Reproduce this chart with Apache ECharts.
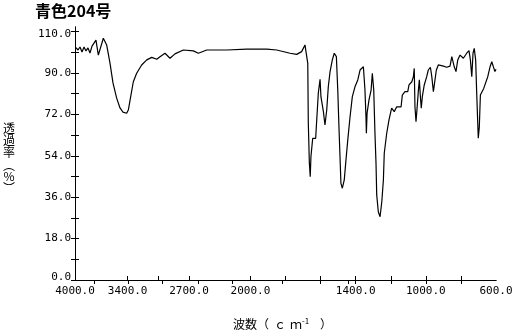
<!DOCTYPE html>
<html>
<head>
<meta charset="utf-8">
<script src="https://cdn.jsdelivr.net/npm/echarts@6/dist/echarts.min.js"></script>
<style>
  html, body { margin: 0; background: #fff; }
  #chart { width: 514px; height: 333px; }
</style>
</head>
<body>
<div id="chart"></div>
<script>
// 波数 (cm-1) と 透過率 (%)
var wavenumber = [3989, 3966, 3943, 3920, 3897, 3875, 3852, 3829, 3806, 3761,
  3734, 3677, 3639, 3601, 3567, 3525, 3487, 3453, 3411, 3392,
  3365, 3335, 3297, 3240, 3182, 3125, 3068, 3031, 2974, 2917,
  2860, 2765, 2651, 2594, 2498, 2270, 2042, 1907, 1850, 1774,
  1736, 1708, 1689, 1679, 1673, 1670, 1664, 1659, 1655, 1645,
  1628, 1622, 1613, 1603, 1598, 1584, 1575, 1565, 1556, 1546,
  1533, 1522, 1510, 1502, 1495, 1489, 1484, 1476, 1465, 1457,
  1445, 1432, 1419, 1404, 1388, 1375, 1356, 1351, 1347, 1341,
  1339, 1335, 1324, 1312, 1305, 1297, 1290, 1284, 1280, 1271,
  1261, 1251, 1242, 1237, 1223, 1210, 1195, 1180, 1166, 1141,
  1134, 1119, 1103, 1096, 1080, 1071, 1066, 1062, 1056, 1050,
  1043, 1037, 1031, 1026, 1020, 1009, 995, 986, 974, 966,
  957, 948, 940, 929, 900, 881, 862, 852, 845, 838,
  828, 818, 805, 795, 786, 767, 754, 746, 738, 731,
  724, 716, 710, 704, 701, 695, 689, 678, 670, 659,
  647, 634, 624, 615, 606, 600];
var transmittance = [101.0, 100.0, 101.3, 99.1, 101.3, 99.6, 100.9, 98.7, 101.7, 104.3,
  97.8, 105.1, 102.2, 94.3, 85.7, 79.1, 74.8, 73.0, 72.5, 73.9,
  79.7, 86.2, 89.9, 93.5, 95.7, 96.8, 96.0, 97.1, 98.6, 96.4,
  98.3, 100.0, 99.6, 98.6, 100.0, 100.0, 100.4, 100.4, 100.0, 98.6,
  98.1, 99.3, 102.2, 101.7, 94.2, 68.3, 50.9, 44.9, 53.6, 61.6,
  61.6, 69.6, 81.2, 87.3, 79.7, 73.2, 67.4, 73.9, 84.0, 90.6,
  95.7, 98.6, 97.1, 82.6, 66.0, 52.9, 42.0, 39.9, 43.5, 50.7,
  60.9, 71.0, 79.7, 84.0, 87.0, 91.3, 92.7, 93.0, 82.6, 70.3,
  63.8, 72.5, 78.3, 82.6, 89.9, 82.6, 63.8, 50.7, 37.0, 29.7,
  27.5, 34.0, 43.5, 55.1, 63.8, 69.6, 74.7, 73.2, 75.3, 75.3,
  80.4, 81.9, 81.9, 84.8, 86.2, 88.4, 92.0, 75.3, 68.8, 74.7,
  81.9, 87.0, 79.7, 74.7, 79.7, 84.8, 88.4, 91.3, 92.5, 88.4,
  81.9, 82.6, 91.3, 93.5, 93.0, 92.5, 93.0, 97.1, 97.8, 92.7,
  90.6, 95.7, 97.8, 97.8, 96.4, 98.6, 99.7, 95.7, 88.4, 98.6,
  100.7, 95.7, 81.2, 68.1, 61.6, 66.7, 80.4, 81.2, 83.3, 84.0,
  88.4, 92.7, 94.9, 92.7, 90.6, 91.6];

// 目盛
var xLabelWn = [4000, 3400, 2700, 2000, 1400, 1000, 600];
var xTickWn = [3400, 3050, 2700, 2000, 1800, 1600, 1400, 1200, 1000, 800];
var xTopTickWn = [3780, 3390, 3000, 2600, 2210, 1820, 1440, 1600, 1400, 1200, 1000, 800];
var yLabels = [0, 18, 36, 54, 72, 90, 110];
var yTicks = [0, 9, 18, 27, 36, 45, 54, 63, 72, 81, 90, 99, 108];
var yNameChars = ['透', '過', '率', '︵', '%', '︶'];

// 2000 cm-1 で横軸の縮尺が変わる（4000-2000 は半分）
function toPos(w) {
  return w >= 2000 ? (4000 - w) / 2 : 3000 - w;
}
function toWn(p) {
  return p <= 1000 ? 4000 - p * 2 : 3000 - p;
}

var points = [];
wavenumber.forEach(function (w, i) {
  points.push([toPos(w), transmittance[i]]);
});

var numFont = 'DejaVu Sans Mono';
var cjkFont = 'Noto Sans CJK JP';

function txt(x, y, s, size, align) {
  return {
    type: 'text',
    x: x,
    y: y,
    style: {
      text: s,
      fontFamily: cjkFont,
      fontSize: size || 12,
      fill: '#000',
      align: align || 'left',
      verticalAlign: 'middle'
    }
  };
}

var graphics = [{
  type: 'text',
  left: 35,
  top: 3,
  style: {
    text: '青色204号',
    font: 'bold 16px "Noto Sans CJK JP"',
    fill: '#000'
  }
}];
// 縦書きの軸名
var yNameY = [128, 140, 152, 165, 176, 188];
yNameChars.forEach(function (c, i) {
  graphics.push(txt(9, yNameY[i], c, 12, 'center'));
});
// 横軸名
graphics.push(txt(233, 324, '波数'));
graphics.push(txt(257, 324, '（'));
graphics.push(txt(274, 324, 'ｃ'));
graphics.push(txt(290, 324, 'ｍ'));
graphics.push(txt(302, 321, '-1', 8));
graphics.push(txt(320, 324, '）'));

var chart = echarts.init(document.getElementById('chart'));
chart.setOption({
  animation: false,
  backgroundColor: '#fff',
  grid: {
    left: 75,
    right: 18,
    top: 27,
    bottom: 53,
    outerBoundsMode: 'none'
  },
  xAxis: [{
    type: 'value',
    position: 'bottom',
    min: 0,
    max: 2400,
    splitLine: { show: false },
    axisLine: { lineStyle: { color: '#000', width: 1 } },
    axisTick: {
      inside: true,
      length: 4,
      lineStyle: { color: '#000' },
      customValues: xTickWn.map(toPos)
    },
    axisLabel: {
      color: '#000',
      fontFamily: numFont,
      fontSize: 11,
      margin: 6,
      customValues: xLabelWn.map(toPos),
      formatter: function (v) { return toWn(v).toFixed(1); }
    }
  }, {
    type: 'value',
    position: 'top',
    min: 0,
    max: 2400,
    splitLine: { show: false },
    axisLine: { lineStyle: { color: '#000', width: 1 } },
    axisTick: {
      inside: true,
      length: 4,
      lineStyle: { color: '#000' },
      customValues: xTopTickWn.map(toPos)
    },
    axisLabel: { show: false }
  }],
  yAxis: [{
    type: 'value',
    position: 'left',
    min: 0,
    max: 110,
    splitLine: { show: false },
    axisLine: { show: true, lineStyle: { color: '#000', width: 1 } },
    axisTick: {
      show: true,
      inside: true,
      length: 4,
      lineStyle: { color: '#000' },
      customValues: yTicks
    },
    axisLabel: {
      color: '#000',
      fontFamily: numFont,
      fontSize: 11,
      margin: 4,
      customValues: yLabels,
      formatter: function (v) {
        if (v === 110) return '{t|110.0}';
        if (v === 0) return '{b|0.0}';
        return v.toFixed(1);
      },
      rich: {
        t: { fontFamily: numFont, fontSize: 11, color: '#000', padding: [14, 0, 0, 0] },
        b: { fontFamily: numFont, fontSize: 11, color: '#000', padding: [0, 0, 6, 0] }
      }
    }
  }, {
    type: 'value',
    position: 'right',
    min: 0,
    max: 110,
    splitLine: { show: false },
    axisLine: { show: true, lineStyle: { color: '#000', width: 1 } },
    axisTick: {
      show: true,
      inside: true,
      length: 4,
      lineStyle: { color: '#000' },
      customValues: yTicks
    },
    axisLabel: { show: false }
  }],
  graphic: graphics,
  series: [{
    type: 'line',
    xAxisIndex: 0,
    yAxisIndex: 0,
    data: points,
    symbol: 'none',
    smooth: false,
    lineStyle: { color: '#000', width: 1.2 }
  }]
});
</script>
</body>
</html>
